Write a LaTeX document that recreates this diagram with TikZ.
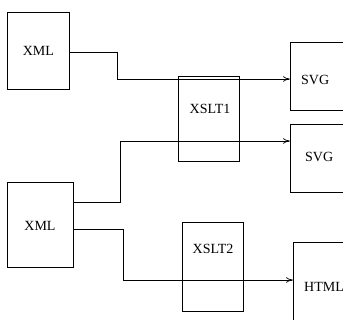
\documentclass[tikz,border=0pt]{standalone}
\usepackage{fontspec}
\setmainfont{Liberation Serif}
\usetikzlibrary{arrows.meta}
\begin{document}
\begin{tikzpicture}[x=1pt,y=-1pt,
  box/.style={draw, line width=0.8pt, inner sep=0pt, anchor=north west},
  lbl/.style={font=\fontsize{14}{16}\selectfont, inner sep=0pt},
  link/.style={draw, line width=0.7pt, -{To[length=7pt,width=5.5pt]}}]
\useasboundingbox (0,0) rectangle (343,320);
\clip (0,0) rectangle (343,320);

% source documents
\node[box, minimum width=62pt, minimum height=77pt] (xml1) at (7,12) {};
\node[box, minimum width=66pt, minimum height=85pt] (xml2) at (7,182) {};
% outputs (cut by the page edge)
\node[box, minimum width=70pt, minimum height=68pt] (svg1) at (290,42) {};
\node[box, minimum width=70pt, minimum height=68pt] (svg2) at (290,124) {};
\node[box, minimum width=60pt, minimum height=90pt] (html) at (293,242) {};

% connectors
\draw[link] (xml1.east |- 0,52) -- (117,52) -- (117,79) -- (svg1.west |- 0,79);
\draw[link] (xml2.east |- 0,202) -- (120,202) -- (120,141) -- (svg2.west |- 0,141);
\draw[link] (xml2.east |- 0,229) -- (123,229) -- (123,280) -- (html.west |- 0,280);

% stylesheets, drawn over the connectors
\node[box, minimum width=61pt, minimum height=85pt] (xslt1) at (178,76) {};
\node[box, minimum width=61pt, minimum height=89pt] (xslt2) at (182,222) {};

% labels
\node[lbl] (xml1l) at (xml1.center) {XML};
\node[lbl] (xml2l) at (40,226) {XML};
\node[lbl, anchor=west] (svg1l) at (301,80) {SVG};
\node[lbl, anchor=west] (svg2l) at (305,157) {SVG};
\node[lbl, anchor=west] (htmll) at (304,287) {HTML};
\node[lbl] (xslt1l) at (210,109) {XSLT1};
\node[lbl] (xslt2l) at (213,249) {XSLT2};
\end{tikzpicture}
\end{document}
